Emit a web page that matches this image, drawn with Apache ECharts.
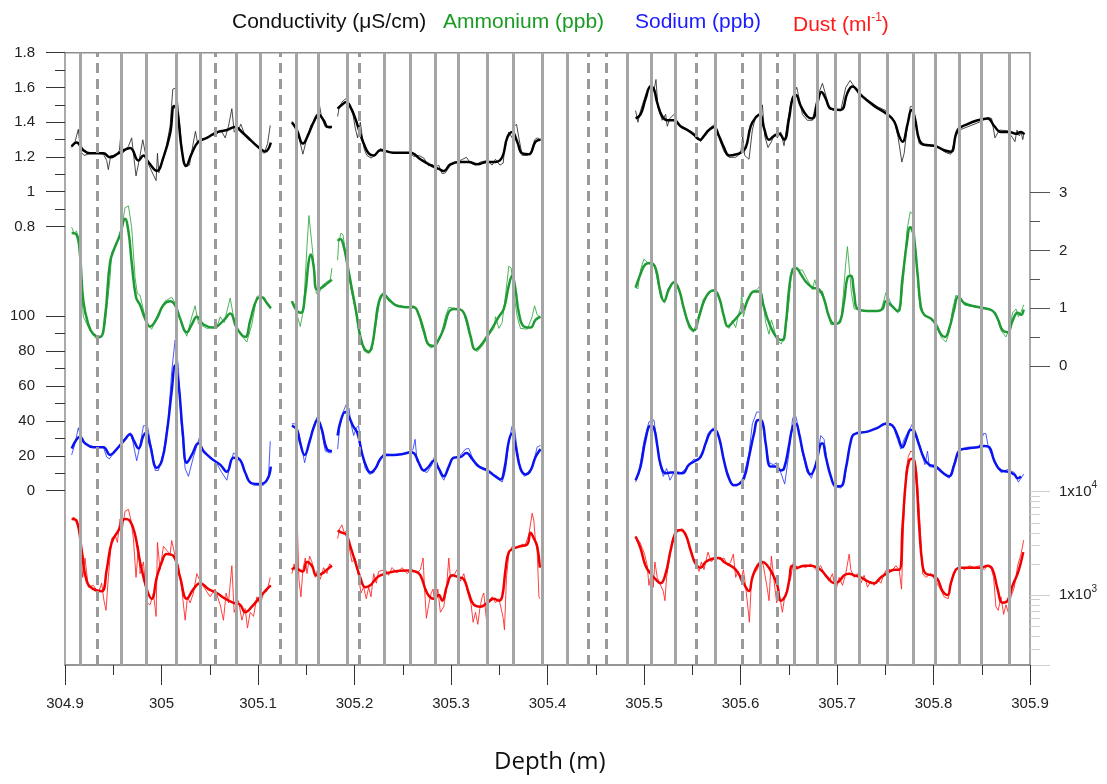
<!DOCTYPE html>
<html><head><meta charset="utf-8">
<script src="https://cdn.jsdelivr.net/npm/echarts@6/dist/echarts.min.js"></script>
<style>html,body{margin:0;padding:0;background:#fff}#c{width:1107px;height:784px}</style>
</head><body><div id="c"></div>
<script>
// ---------------- axis settings ----------------
const depthRange = [304.9, 305.9];
const condRange = [0.8, 1.8];
const naRange = [0, 100];
const ammRange = [0, 3];
const dustRange = [210, 10000];
const solidLines = [304.9156,304.958,304.984,305.015,305.040,305.077,305.102,305.140,305.162,305.193,305.231,305.258,305.284,305.307,305.338,305.364,305.395,305.420,305.483,305.508,305.532,305.574,305.620,305.656,305.680,305.698,305.723,305.752,305.779,305.802,305.827,305.849,305.879];
const dashedLines = [304.933,305.056,305.123,305.205,305.442,305.461,305.554,305.602,305.638];

// ---------------- Conductivity (uS/cm) ----------------
const condRaw1 = [[304.9062,1.254],[304.9104,1.288],[304.9138,1.359],[304.9162,1.232],[304.9197,1.209],[304.9294,1.225],[304.9398,1.216],[304.9432,1.180],[304.9449,1.127],[304.9474,1.209],[304.9519,1.203],[304.9564,1.239],[304.9577,1.321],[304.9605,1.225],[304.9657,1.261],[304.9691,1.310],[304.9716,1.187],[304.9736,1.091],[304.9771,1.187],[304.9806,1.299],[304.9833,1.221],[304.9864,1.158],[304.9916,1.097],[304.9944,1.064],[304.9958,1.221],[304.9972,1.109],[305.0037,1.221],[305.0089,1.377],[305.0117,1.590],[305.0152,1.597],[305.0176,1.467],[305.0221,1.187],[305.0245,1.142],[305.0290,1.153],[305.0324,1.265],[305.0352,1.348],[305.0373,1.283],[305.0435,1.299],[305.0504,1.321],[305.0573,1.333],[305.0615,1.355],[305.0660,1.310],[305.0694,1.377],[305.0729,1.478],[305.0753,1.344],[305.0798,1.355],[305.0822,1.389],[305.0867,1.321],[305.0936,1.288],[305.1023,1.239],[305.1064,1.221],[305.1099,1.277],[305.1127,1.382]];
const condSm1 = [[304.9069,1.261],[304.9121,1.283],[304.9190,1.239],[304.9259,1.221],[304.9398,1.221],[304.9467,1.198],[304.9553,1.221],[304.9674,1.252],[304.9761,1.180],[304.9813,1.209],[304.9864,1.171],[304.9951,1.120],[305.0020,1.198],[305.0089,1.333],[305.0131,1.494],[305.0165,1.456],[305.0210,1.243],[305.0255,1.149],[305.0314,1.221],[305.0383,1.288],[305.0470,1.310],[305.0573,1.342],[305.0677,1.355],[305.0763,1.373],[305.0833,1.344],[305.0919,1.299],[305.1023,1.248],[305.1075,1.232],[305.1133,1.283]];
const condRaw2a = [[305.1351,1.404],[305.1386,1.382],[305.1420,1.321],[305.1465,1.216],[305.1507,1.310],[305.1548,1.382],[305.1604,1.422],[305.1638,1.494],[305.1662,1.422],[305.1697,1.373],[305.1749,1.366],[305.1766,1.373]];
const condSm2a = [[305.1351,1.400],[305.1403,1.355],[305.1465,1.277],[305.1524,1.333],[305.1576,1.400],[305.1628,1.445],[305.1680,1.411],[305.1725,1.373],[305.1766,1.373]];
const condRaw2b = [[305.1825,1.433],[305.1839,1.478],[305.1870,1.516],[305.1905,1.534],[305.1929,1.525],[305.1957,1.478],[305.1984,1.445],[305.2008,1.366],[305.2032,1.310],[305.2060,1.400],[305.2077,1.333],[305.2102,1.243],[305.2129,1.209],[305.2171,1.194],[305.2216,1.209],[305.2268,1.248],[305.2406,1.221],[305.2579,1.221],[305.2614,1.203],[305.2666,1.209],[305.2718,1.194],[305.2769,1.149],[305.2804,1.158],[305.2839,1.142],[305.2873,1.153],[305.2908,1.104],[305.2942,1.109],[305.2994,1.153],[305.3063,1.171],[305.3160,1.198],[305.3202,1.165],[305.3254,1.153],[305.3305,1.171],[305.3375,1.180],[305.3426,1.153],[305.3461,1.187],[305.3506,1.153],[305.3541,1.165],[305.3554,1.243],[305.3599,1.344],[305.3634,1.310],[305.3658,1.377],[305.3679,1.389],[305.3703,1.310],[305.3738,1.209],[305.3790,1.209],[305.3831,1.225],[305.3866,1.299],[305.3893,1.310],[305.3928,1.299]];
const condSm2b = [[305.1825,1.478],[305.1870,1.500],[305.1915,1.516],[305.1957,1.489],[305.2008,1.422],[305.2053,1.344],[305.2095,1.277],[305.2147,1.221],[305.2199,1.209],[305.2268,1.239],[305.2406,1.225],[305.2579,1.225],[305.2683,1.187],[305.2787,1.153],[305.2873,1.131],[305.2925,1.120],[305.2994,1.158],[305.3098,1.171],[305.3184,1.171],[305.3271,1.158],[305.3375,1.171],[305.3461,1.171],[305.3530,1.198],[305.3582,1.310],[305.3634,1.344],[305.3686,1.288],[305.3738,1.221],[305.3807,1.216],[305.3876,1.288],[305.3928,1.299]];
const condRaw3 = [[305.4913,1.467],[305.4937,1.400],[305.4964,1.467],[305.5016,1.556],[305.5061,1.612],[305.5103,1.583],[305.5124,1.646],[305.5144,1.489],[305.5189,1.411],[305.5224,1.445],[305.5241,1.377],[305.5269,1.422],[305.5310,1.445],[305.5362,1.382],[305.5431,1.366],[305.5500,1.344],[305.5552,1.321],[305.5587,1.288],[305.5639,1.344],[305.5684,1.366],[305.5732,1.389],[305.5777,1.310],[305.5829,1.232],[305.5881,1.198],[305.5950,1.198],[305.6002,1.221],[305.6023,1.321],[305.6043,1.209],[305.6088,1.187],[305.6123,1.355],[305.6157,1.433],[305.6209,1.445],[305.6227,1.500],[305.6251,1.321],[305.6285,1.254],[305.6320,1.288],[305.6355,1.333],[305.6382,1.310],[305.6417,1.344],[305.6451,1.265],[305.6486,1.400],[305.6527,1.523],[305.6583,1.601],[305.6617,1.512],[305.6642,1.445],[305.6693,1.411],[305.6745,1.411],[305.6797,1.545],[305.6849,1.624],[305.6884,1.556],[305.6918,1.478],[305.6970,1.467],[305.7039,1.467],[305.7091,1.601],[305.7136,1.640],[305.7178,1.606],[305.7281,1.545],[305.7420,1.489],[305.7506,1.467],[305.7523,1.445],[305.7575,1.422],[305.7599,1.400],[305.7634,1.310],[305.7672,1.171],[305.7696,1.221],[305.7731,1.389],[305.7759,1.489],[305.7793,1.494],[305.7817,1.400],[305.7852,1.277],[305.7911,1.265],[305.8025,1.261],[305.8129,1.225],[305.8180,1.216],[305.8232,1.321],[305.8267,1.355],[305.8370,1.377],[305.8474,1.400],[305.8561,1.427],[305.8602,1.422],[305.8637,1.310],[305.8682,1.355],[305.8768,1.351],[305.8820,1.310],[305.8844,1.288],[305.8865,1.355],[305.8889,1.321],[305.8907,1.344],[305.8925,1.300],[305.8940,1.340]];
const condSm3 = [[305.4913,1.422],[305.4964,1.445],[305.5016,1.534],[305.5068,1.606],[305.5103,1.590],[305.5137,1.512],[305.5189,1.433],[305.5241,1.411],[305.5310,1.411],[305.5379,1.377],[305.5449,1.355],[305.5518,1.328],[305.5580,1.299],[305.5622,1.321],[305.5673,1.355],[305.5725,1.373],[305.5777,1.321],[305.5829,1.254],[305.5881,1.209],[305.5950,1.214],[305.6002,1.225],[305.6054,1.254],[305.6106,1.377],[305.6157,1.427],[305.6202,1.445],[305.6244,1.366],[305.6296,1.299],[305.6348,1.321],[305.6400,1.333],[305.6451,1.299],[305.6503,1.422],[305.6538,1.534],[305.6573,1.556],[305.6624,1.494],[305.6693,1.433],[305.6745,1.422],[305.6797,1.512],[305.6839,1.574],[305.6884,1.534],[305.6936,1.478],[305.7039,1.471],[305.7108,1.568],[305.7160,1.606],[305.7247,1.556],[305.7385,1.494],[305.7523,1.445],[305.7593,1.404],[305.7644,1.321],[305.7679,1.288],[305.7731,1.389],[305.7772,1.471],[305.7807,1.422],[305.7852,1.299],[305.7904,1.270],[305.8008,1.265],[305.8111,1.239],[305.8180,1.230],[305.8250,1.355],[305.8353,1.389],[305.8457,1.411],[305.8561,1.422],[305.8630,1.377],[305.8699,1.344],[305.8786,1.344],[305.8855,1.333],[305.8907,1.344],[305.8940,1.330]];

// ---------------- Ammonium (ppb) ----------------
const ammRaw1 = [[304.9069,2.402],[304.9093,2.301],[304.9121,2.335],[304.9138,2.200],[304.9149,2.281],[304.9162,1.527],[304.9190,0.853],[304.9259,0.617],[304.9328,0.462],[304.9380,0.503],[304.9415,0.718],[304.9467,1.527],[304.9484,1.965],[304.9536,2.133],[304.9588,2.402],[304.9622,2.739],[304.9657,2.773],[304.9691,2.402],[304.9726,1.527],[304.9750,1.257],[304.9778,1.224],[304.9806,1.022],[304.9847,0.718],[304.9899,0.638],[304.9968,0.921],[305.0037,1.123],[305.0106,1.190],[305.0141,1.089],[305.0210,0.718],[305.0262,0.516],[305.0314,0.853],[305.0348,1.042],[305.0383,0.732],[305.0470,0.651],[305.0573,0.665],[305.0608,0.853],[305.0649,0.752],[305.0712,1.176],[305.0746,0.853],[305.0815,0.550],[305.0884,0.415],[305.0936,0.718],[305.0988,1.203],[305.1023,1.224],[305.1064,1.136],[305.1133,0.988]];
const ammSm1 = [[304.9069,2.301],[304.9121,2.268],[304.9155,1.931],[304.9190,1.123],[304.9242,0.718],[304.9294,0.550],[304.9363,0.503],[304.9415,0.853],[304.9467,1.796],[304.9519,2.066],[304.9570,2.268],[304.9622,2.551],[304.9657,2.335],[304.9691,1.796],[304.9736,1.190],[304.9778,1.055],[304.9830,0.820],[304.9882,0.685],[304.9951,0.820],[305.0020,1.055],[305.0089,1.123],[305.0141,1.055],[305.0193,0.820],[305.0262,0.584],[305.0314,0.718],[305.0366,0.853],[305.0435,0.718],[305.0539,0.665],[305.0642,0.786],[305.0712,0.907],[305.0781,0.651],[305.0867,0.503],[305.0919,0.786],[305.0988,1.156],[305.1040,1.190],[305.1092,1.089],[305.1133,1.001]];
const ammRaw2a = [[305.1351,1.123],[305.1386,1.055],[305.1410,0.853],[305.1438,0.685],[305.1472,0.988],[305.1507,2.066],[305.1528,2.605],[305.1548,2.571],[305.1569,1.931],[305.1604,1.257],[305.1628,1.224],[305.1662,1.392],[305.1714,1.460],[305.1749,1.493],[305.1766,1.695]];
const ammSm2a = [[305.1351,1.123],[305.1403,0.954],[305.1445,0.921],[305.1490,1.257],[305.1524,1.796],[305.1548,1.931],[305.1576,1.729],[305.1611,1.325],[305.1662,1.358],[305.1714,1.426],[305.1766,1.493]];
const ammRaw2b = [[305.1825,1.830],[305.1835,2.133],[305.1860,2.301],[305.1881,2.268],[305.1915,1.864],[305.1964,1.325],[305.2008,0.988],[305.2053,0.483],[305.2102,0.260],[305.2147,0.213],[305.2181,0.281],[305.2216,0.651],[305.2261,1.123],[305.2303,1.291],[305.2354,1.123],[305.2441,1.055],[305.2527,1.022],[305.2614,1.042],[305.2648,0.988],[305.2700,0.651],[305.2752,0.382],[305.2787,0.314],[305.2839,0.348],[305.2890,0.483],[305.2942,0.853],[305.2977,1.015],[305.3029,1.001],[305.3098,0.988],[305.3133,0.921],[305.3174,0.651],[305.3229,0.314],[305.3271,0.247],[305.3323,0.348],[305.3392,0.530],[305.3444,0.651],[305.3461,0.853],[305.3496,0.651],[305.3530,0.752],[305.3565,1.224],[305.3599,1.729],[305.3624,1.695],[305.3651,1.257],[305.3686,0.853],[305.3720,0.651],[305.3790,0.638],[305.3841,0.853],[305.3866,1.042],[305.3893,0.887],[305.3928,0.840]];
const ammSm2b = [[305.1825,2.167],[305.1853,2.200],[305.1887,2.079],[305.1929,1.729],[305.1974,1.325],[305.2019,0.921],[305.2060,0.516],[305.2102,0.301],[305.2147,0.247],[305.2181,0.348],[305.2216,0.718],[305.2250,1.089],[305.2303,1.244],[305.2354,1.156],[305.2424,1.055],[305.2510,1.022],[305.2614,1.015],[305.2666,0.887],[305.2718,0.617],[305.2769,0.368],[305.2821,0.348],[305.2873,0.462],[305.2925,0.651],[305.2977,0.934],[305.3029,0.988],[305.3098,0.975],[305.3150,0.853],[305.3202,0.516],[305.3254,0.281],[305.3305,0.348],[305.3375,0.516],[305.3426,0.651],[305.3496,0.853],[305.3547,0.988],[305.3599,1.392],[305.3634,1.561],[305.3668,1.325],[305.3703,0.921],[305.3755,0.685],[305.3824,0.665],[305.3876,0.799],[305.3928,0.853]];
const ammRaw3 = [[305.4913,1.358],[305.4937,1.338],[305.4964,1.662],[305.4999,1.850],[305.5034,1.796],[305.5075,1.742],[305.5103,1.763],[305.5130,1.561],[305.5172,1.190],[305.5213,1.089],[305.5248,1.338],[305.5310,1.473],[305.5345,1.426],[305.5373,1.257],[305.5421,0.921],[305.5466,0.651],[305.5511,0.584],[305.5552,0.786],[305.5615,1.156],[305.5691,1.291],[305.5743,1.291],[305.5794,1.123],[305.5846,0.718],[305.5881,0.651],[305.5915,0.786],[305.5950,0.665],[305.5974,0.853],[305.6002,1.022],[305.6012,1.271],[305.6030,0.853],[305.6071,1.123],[305.6123,1.291],[305.6175,1.325],[305.6202,1.392],[305.6230,1.156],[305.6261,0.752],[305.6296,0.550],[305.6320,0.799],[305.6341,0.685],[305.6375,0.449],[305.6424,0.382],[305.6465,0.584],[305.6503,1.123],[305.6527,1.628],[305.6562,1.742],[305.6590,1.662],[305.6642,1.662],[305.6693,1.493],[305.6745,1.325],[305.6770,1.493],[305.6804,1.257],[305.6849,1.291],[305.6894,0.988],[305.6936,0.718],[305.6998,0.718],[305.7039,0.752],[305.7067,1.257],[305.7088,1.729],[305.7108,2.066],[305.7129,1.662],[305.7150,1.257],[305.7178,0.988],[305.7316,0.954],[305.7454,0.954],[305.7489,1.156],[305.7506,1.271],[305.7523,1.224],[305.7575,1.022],[305.7627,0.921],[305.7655,0.954],[305.7689,1.527],[305.7724,2.335],[305.7759,2.672],[305.7793,2.605],[305.7828,1.662],[305.7862,0.988],[305.7911,0.867],[305.7990,0.820],[305.8042,0.651],[305.8084,0.483],[305.8129,0.415],[305.8163,0.584],[305.8198,0.988],[305.8232,1.224],[305.8267,1.190],[305.8319,1.055],[305.8422,1.022],[305.8526,1.001],[305.8578,0.988],[305.8613,0.954],[305.8647,0.921],[305.8699,0.617],[305.8751,0.503],[305.8786,0.651],[305.8820,0.921],[305.8855,0.988],[305.8879,0.853],[305.8907,0.934],[305.8935,1.060]];
const ammSm3 = [[305.4913,1.358],[305.4964,1.594],[305.5016,1.763],[305.5068,1.783],[305.5120,1.695],[305.5165,1.325],[305.5207,1.123],[305.5258,1.325],[305.5310,1.446],[305.5362,1.325],[305.5414,0.988],[305.5466,0.718],[305.5518,0.617],[305.5570,0.853],[305.5622,1.123],[305.5673,1.271],[305.5725,1.311],[305.5777,1.190],[305.5829,0.853],[305.5870,0.685],[305.5926,0.772],[305.5985,0.887],[305.6036,0.988],[305.6088,1.190],[305.6140,1.291],[305.6192,1.291],[305.6237,1.055],[305.6279,0.820],[305.6330,0.617],[305.6382,0.483],[305.6434,0.449],[305.6469,0.718],[305.6503,1.325],[305.6538,1.662],[305.6573,1.695],[305.6624,1.594],[305.6676,1.460],[305.6745,1.358],[305.6815,1.325],[305.6866,1.156],[305.6918,0.853],[305.6970,0.732],[305.7022,0.752],[305.7074,1.123],[305.7108,1.527],[305.7143,1.561],[305.7178,1.257],[305.7212,0.988],[305.7316,0.954],[305.7420,0.954],[305.7472,0.988],[305.7506,1.123],[305.7558,1.055],[305.7627,0.954],[305.7679,1.527],[305.7724,2.133],[305.7759,2.402],[305.7793,2.268],[305.7835,1.594],[305.7869,1.022],[305.7904,0.887],[305.7973,0.820],[305.8025,0.718],[305.8077,0.550],[305.8118,0.503],[305.8163,0.651],[305.8215,0.988],[305.8257,1.203],[305.8319,1.089],[305.8422,1.035],[305.8526,1.001],[305.8613,0.954],[305.8664,0.820],[305.8716,0.617],[305.8768,0.584],[305.8820,0.786],[305.8872,0.921],[305.8907,0.887],[305.8935,0.980]];

// ---------------- Sodium (ppb) ----------------
const naRaw1 = [[304.9069,20.5],[304.9104,27.1],[304.9138,36.0],[304.9173,28.7],[304.9259,24.9],[304.9398,24.9],[304.9432,19.3],[304.9460,18.2],[304.9519,22.7],[304.9622,30.0],[304.9674,33.2],[304.9702,28.3],[304.9743,17.1],[304.9778,26.0],[304.9813,37.2],[304.9854,37.2],[304.9899,23.8],[304.9934,11.6],[304.9968,11.6],[305.0020,21.6],[305.0072,41.6],[305.0106,68.3],[305.0141,86.2],[305.0176,70.6],[305.0200,41.6],[305.0245,12.7],[305.0279,8.2],[305.0331,19.3],[305.0393,30.5],[305.0435,21.6],[305.0556,17.1],[305.0625,10.4],[305.0677,6.0],[305.0712,14.9],[305.0746,21.6],[305.0798,19.3],[305.0843,14.9],[305.0884,7.1],[305.0954,3.1],[305.1057,3.1],[305.1109,8.2],[305.1127,28.3]];
const naSm1 = [[304.9069,24.2],[304.9121,29.4],[304.9155,30.9],[304.9207,27.1],[304.9294,24.9],[304.9398,24.9],[304.9467,20.5],[304.9536,23.8],[304.9622,29.4],[304.9674,32.3],[304.9716,28.3],[304.9761,24.2],[304.9813,31.6],[304.9840,33.2],[304.9882,26.0],[304.9951,13.1],[305.0003,17.1],[305.0054,32.7],[305.0106,57.2],[305.0141,71.7],[305.0176,61.7],[305.0221,32.7],[305.0262,16.0],[305.0314,20.5],[305.0383,27.1],[305.0435,22.7],[305.0521,18.2],[305.0608,14.9],[305.0677,10.9],[305.0746,18.9],[305.0815,17.6],[305.0867,10.4],[305.0936,4.2],[305.1023,3.8],[305.1092,6.0],[305.1133,13.8]];
const naRaw2a = [[305.1351,38.3],[305.1396,38.3],[305.1438,29.4],[305.1483,16.0],[305.1524,26.0],[305.1576,37.2],[305.1611,42.1],[305.1645,38.3],[305.1697,22.7],[305.1742,21.6],[305.1766,22.0]];
const naSm2a = [[305.1351,37.2],[305.1403,34.9],[305.1438,27.1],[305.1483,20.5],[305.1535,28.3],[305.1576,36.0],[305.1617,40.5],[305.1662,34.9],[305.1714,23.8],[305.1766,22.7]];
const naRaw2b = [[305.1825,23.8],[305.1846,36.0],[305.1881,45.0],[305.1915,49.4],[305.1943,47.2],[305.1964,38.3],[305.1991,31.6],[305.2019,36.0],[305.2043,37.2],[305.2067,23.8],[305.2112,12.7],[305.2157,9.3],[305.2199,10.4],[305.2250,17.1],[305.2303,21.1],[305.2406,20.5],[305.2579,22.0],[305.2607,23.8],[305.2628,29.4],[305.2648,17.1],[305.2700,11.6],[305.2752,10.4],[305.2804,14.9],[305.2828,19.3],[305.2856,16.0],[305.2890,9.3],[305.2925,6.0],[305.2960,10.4],[305.3011,18.2],[305.3081,19.3],[305.3150,23.8],[305.3184,24.2],[305.3236,17.1],[305.3305,13.8],[305.3392,11.6],[305.3461,7.8],[305.3530,4.9],[305.3565,11.6],[305.3599,28.3],[305.3634,37.2],[305.3658,36.0],[305.3686,23.8],[305.3720,11.6],[305.3762,8.2],[305.3817,10.0],[305.3859,17.1],[305.3893,24.9],[305.3928,26.0]];
const naSm2b = [[305.1825,31.6],[305.1860,40.5],[305.1905,45.0],[305.1939,42.7],[305.1984,37.2],[305.2032,32.7],[305.2077,21.6],[305.2122,13.8],[305.2164,10.4],[305.2216,12.7],[305.2268,18.2],[305.2320,20.5],[305.2406,20.5],[305.2510,21.1],[305.2579,22.0],[305.2614,21.6],[305.2666,16.0],[305.2718,11.6],[305.2769,13.8],[305.2821,17.1],[305.2873,12.7],[305.2925,8.2],[305.2977,13.8],[305.3029,18.9],[305.3098,19.3],[305.3160,21.6],[305.3219,18.2],[305.3288,13.8],[305.3375,11.6],[305.3461,8.2],[305.3513,6.4],[305.3554,12.7],[305.3599,28.3],[305.3634,32.7],[305.3668,26.0],[305.3720,12.7],[305.3772,9.3],[305.3824,11.6],[305.3876,19.3],[305.3928,23.8]];
const naRaw3 = [[305.4913,4.9],[305.4947,10.4],[305.4999,28.3],[305.5051,39.4],[305.5103,40.5],[305.5130,29.4],[305.5165,14.9],[305.5200,8.2],[305.5234,12.7],[305.5269,6.0],[305.5310,10.4],[305.5362,9.3],[305.5414,11.6],[305.5466,14.9],[305.5518,18.2],[305.5559,17.1],[305.5615,23.8],[305.5663,32.7],[305.5718,36.0],[305.5767,32.7],[305.5812,21.6],[305.5864,8.2],[305.5905,3.8],[305.5960,2.6],[305.6009,4.9],[305.6043,10.4],[305.6088,21.6],[305.6123,38.3],[305.6168,45.0],[305.6209,45.0],[305.6251,29.4],[305.6296,16.0],[305.6341,14.9],[305.6375,16.0],[305.6410,11.6],[305.6458,3.8],[305.6503,21.6],[305.6538,40.5],[305.6562,45.0],[305.6597,37.2],[305.6642,21.6],[305.6693,10.4],[305.6735,7.1],[305.6790,17.1],[305.6832,31.6],[305.6866,29.4],[305.6908,12.7],[305.6970,2.6],[305.7039,1.5],[305.7081,7.1],[305.7126,23.8],[305.7160,32.3],[305.7316,33.8],[305.7420,36.0],[305.7506,38.9],[305.7558,38.3],[305.7593,34.9],[305.7627,29.4],[305.7662,23.8],[305.7696,29.4],[305.7738,33.8],[305.7783,38.3],[305.7828,31.6],[305.7869,23.8],[305.7911,14.9],[305.7938,22.7],[305.7956,13.8],[305.8025,13.1],[305.8094,10.0],[305.8163,7.1],[305.8208,14.9],[305.8250,22.7],[305.8353,24.9],[305.8474,24.9],[305.8519,32.7],[305.8543,32.7],[305.8568,24.9],[305.8613,19.3],[305.8647,14.9],[305.8699,10.4],[305.8768,12.2],[305.8837,10.4],[305.8879,4.9],[305.8907,7.1],[305.8935,9.5]];
const naSm3 = [[305.4913,6.0],[305.4964,13.8],[305.5016,29.4],[305.5068,37.2],[305.5103,36.0],[305.5137,26.0],[305.5172,14.9],[305.5224,10.0],[305.5276,10.4],[305.5328,10.4],[305.5397,10.0],[305.5466,14.9],[305.5535,17.1],[305.5587,19.3],[305.5639,27.1],[305.5691,33.8],[305.5732,34.9],[305.5777,30.5],[305.5829,17.1],[305.5881,7.1],[305.5933,3.1],[305.5985,3.8],[305.6036,7.1],[305.6088,19.3],[305.6140,32.7],[305.6182,40.5],[305.6227,39.4],[305.6261,27.1],[305.6313,13.8],[305.6365,13.8],[305.6417,11.6],[305.6451,12.7],[305.6503,26.0],[305.6538,36.0],[305.6573,38.3],[305.6607,32.7],[305.6659,19.3],[305.6728,9.3],[305.6780,14.9],[305.6825,26.0],[305.6849,27.1],[305.6884,19.3],[305.6936,8.2],[305.6987,2.6],[305.7039,2.6],[305.7091,12.7],[305.7143,28.3],[305.7178,32.3],[305.7316,33.8],[305.7420,36.0],[305.7506,38.3],[305.7575,37.2],[305.7627,31.6],[305.7679,24.9],[305.7724,30.5],[305.7765,34.9],[305.7800,33.8],[305.7852,26.0],[305.7904,18.2],[305.7956,14.9],[305.8025,13.8],[305.8094,10.4],[305.8163,8.2],[305.8215,14.9],[305.8267,22.7],[305.8353,24.2],[305.8457,24.9],[305.8526,25.6],[305.8578,24.9],[305.8630,17.1],[305.8699,11.6],[305.8768,10.9],[305.8837,9.3],[305.8872,7.1],[305.8907,8.2]];

// ---------------- Dust (ml-1) ----------------
const dustRaw1 = [[304.9069,5430],[304.9093,5680],[304.9138,4570],[304.9162,3230],[304.9183,1480],[304.9207,2280],[304.9242,1190],[304.9294,1240],[304.9346,1045],[304.9380,1300],[304.9404,880],[304.9425,710],[304.9449,1480],[304.9484,3520],[304.9519,3840],[304.9543,3230],[304.9570,5430],[304.9598,4570],[304.9622,6460],[304.9657,6750],[304.9681,5430],[304.9709,3520],[304.9736,1480],[304.9761,2960],[304.9778,1610],[304.9813,2090],[304.9847,840],[304.9882,805],[304.9916,1045],[304.9944,620],[304.9958,3230],[304.9985,1760],[305.0020,2960],[305.0054,2710],[305.0089,2490],[305.0106,3370],[305.0141,2380],[305.0176,1920],[305.0210,1140],[305.0245,570],[305.0269,960],[305.0297,840],[305.0331,1045],[305.0366,1610],[305.0400,1360],[305.0452,1140],[305.0504,960],[305.0556,1140],[305.0608,805],[305.0642,570],[305.0670,1045],[305.0694,840],[305.0729,1920],[305.0753,680],[305.0798,880],[305.0833,570],[305.0867,740],[305.0891,480],[305.0919,680],[305.0954,620],[305.0988,960],[305.1023,805],[305.1057,1045],[305.1092,1090],[305.1127,1480]];
const dustSm1 = [[304.9069,5430],[304.9121,5200],[304.9173,2710],[304.9225,1360],[304.9294,1140],[304.9380,1090],[304.9432,1760],[304.9484,3230],[304.9553,4190],[304.9622,5430],[304.9674,5200],[304.9726,3840],[304.9778,2090],[304.9847,1140],[304.9899,920],[304.9951,1480],[305.0003,2090],[305.0054,2490],[305.0124,2380],[305.0193,1480],[305.0262,920],[305.0331,1140],[305.0400,1300],[305.0487,1140],[305.0573,1045],[305.0660,920],[305.0746,840],[305.0815,805],[305.0867,680],[305.0936,770],[305.1023,960],[305.1092,1140],[305.1133,1240]];
const dustRaw2a = [[305.1351,1610],[305.1375,2000],[305.1396,1550],[305.1410,4010],[305.1424,1420],[305.1445,960],[305.1465,1760],[305.1490,2280],[305.1507,1610],[305.1535,2380],[305.1559,2090],[305.1593,1480],[305.1617,1760],[305.1645,1420],[305.1680,1840],[305.1714,1610],[305.1742,2000],[305.1766,1920]];
const dustSm2a = [[305.1351,1760],[305.1386,1840],[305.1420,1760],[305.1465,1690],[305.1507,2090],[305.1559,1920],[305.1604,1550],[305.1662,1610],[305.1714,1760],[305.1766,1920]];
const dustRaw2b = [[305.1825,3520],[305.1846,4380],[305.1870,4770],[305.1894,4010],[305.1915,4190],[305.1939,3090],[305.1974,2090],[305.2008,2280],[305.2043,1480],[305.2067,1045],[305.2095,1190],[305.2122,920],[305.2147,1190],[305.2171,960],[305.2199,1610],[305.2226,1300],[305.2250,1690],[305.2320,1760],[305.2354,1550],[305.2389,1840],[305.2441,1640],[305.2493,1840],[305.2545,1610],[305.2597,1760],[305.2648,1640],[305.2683,1760],[305.2711,2280],[305.2724,1240],[305.2745,595],[305.2769,805],[305.2794,1045],[305.2814,1140],[305.2839,740],[305.2863,1140],[305.2890,680],[305.2925,770],[305.2953,1140],[305.2977,2280],[305.2994,1480],[305.3029,1550],[305.3063,1760],[305.3098,1360],[305.3133,1610],[305.3174,1045],[305.3209,805],[305.3229,545],[305.3254,680],[305.3278,520],[305.3299,740],[305.3323,960],[305.3340,1045],[305.3368,570],[305.3392,880],[305.3426,960],[305.3461,840],[305.3496,920],[305.3520,740],[305.3541,595],[305.3554,460],[305.3575,1480],[305.3599,2490],[305.3634,2960],[305.3668,2830],[305.3703,2960],[305.3738,3090],[305.3772,3090],[305.3807,3840],[305.3841,6190],[305.3859,5200],[305.3876,3230],[305.3893,2710],[305.3911,960],[305.3921,920]];
const dustSm2b = [[305.1825,4190],[305.1870,4010],[305.1915,3840],[305.1957,2960],[305.2008,2090],[305.2060,1480],[305.2112,1190],[305.2164,1240],[305.2216,1420],[305.2268,1550],[305.2406,1690],[305.2545,1730],[305.2631,1690],[305.2683,1550],[305.2752,1045],[305.2821,920],[305.2873,1000],[305.2908,880],[305.2960,1240],[305.3011,1550],[305.3081,1480],[305.3133,1420],[305.3184,1045],[305.3236,805],[305.3305,770],[305.3375,840],[305.3444,920],[305.3496,880],[305.3530,960],[305.3565,1760],[305.3599,2600],[305.3651,2830],[305.3720,2960],[305.3790,3090],[305.3824,4010],[305.3859,3520],[305.3893,2960],[305.3921,1840]];
const dustRaw3 = [[305.4913,3680],[305.4930,3840],[305.4958,3230],[305.4982,2830],[305.5006,2490],[305.5034,1920],[305.5051,1240],[305.5075,1610],[305.5096,1190],[305.5113,2090],[305.5137,1480],[305.5172,1240],[305.5200,1090],[305.5217,880],[305.5234,1480],[305.5258,2090],[305.5293,3370],[305.5328,4380],[305.5362,4190],[305.5397,4380],[305.5431,4010],[305.5466,2960],[305.5511,2280],[305.5545,1920],[305.5570,1690],[305.5594,2090],[305.5622,1760],[305.5663,2600],[305.5698,2090],[305.5743,2380],[305.5788,2190],[305.5829,2280],[305.5870,1920],[305.5898,2090],[305.5926,2490],[305.5950,1480],[305.5974,1690],[305.6002,1360],[305.6030,1760],[305.6054,1190],[305.6078,740],[305.6092,545],[305.6113,1360],[305.6140,1610],[305.6175,1760],[305.6209,2280],[305.6237,1920],[305.6272,1240],[305.6296,880],[305.6320,2380],[305.6348,1360],[305.6375,840],[305.6400,1045],[305.6434,680],[305.6458,960],[305.6486,1140],[305.6521,1480],[305.6555,2280],[305.6583,1760],[305.6624,1920],[305.6676,1840],[305.6728,2000],[305.6780,1760],[305.6832,1920],[305.6873,1550],[305.6918,1360],[305.6953,1610],[305.6987,1090],[305.7022,1480],[305.7057,1240],[305.7091,1610],[305.7126,2490],[305.7143,1760],[305.7178,1480],[305.7212,1610],[305.7247,1300],[305.7281,1550],[305.7316,1190],[305.7351,1360],[305.7385,1240],[305.7420,1420],[305.7454,1300],[305.7489,1610],[305.7523,1840],[305.7565,1690],[305.7610,1920],[305.7644,1760],[305.7669,1140],[305.7689,4570],[305.7714,15380],[305.7738,21760],[305.7765,24770],[305.7793,23700],[305.7828,15380],[305.7862,4570],[305.7887,1610],[305.7921,1480],[305.7973,1610],[305.8025,1360],[305.8070,1140],[305.8111,960],[305.8153,920],[305.8187,1360],[305.8232,1760],[305.8267,1920],[305.8319,1760],[305.8370,1920],[305.8422,1840],[305.8474,1920],[305.8526,1760],[305.8561,1920],[305.8595,1840],[305.8623,1480],[305.8647,770],[305.8671,710],[305.8699,960],[305.8727,650],[305.8751,805],[305.8775,680],[305.8803,960],[305.8837,1190],[305.8872,1920],[305.8907,2490],[305.8935,3400]];
const dustSm3 = [[305.4913,3680],[305.4964,2830],[305.5016,1920],[305.5068,1610],[305.5120,1420],[305.5172,1300],[305.5224,1610],[305.5276,2710],[305.5328,4010],[305.5379,4260],[305.5431,3840],[305.5483,2710],[305.5535,2000],[305.5587,1840],[305.5639,2090],[305.5708,2240],[305.5777,2280],[305.5829,2090],[305.5898,1920],[305.5950,1760],[305.6002,1480],[305.6054,1190],[305.6088,1090],[305.6123,1480],[305.6175,1920],[305.6227,2090],[305.6279,1920],[305.6330,1610],[305.6382,1240],[305.6417,880],[305.6469,1000],[305.6503,1360],[305.6538,1920],[305.6590,1840],[305.6659,1920],[305.6728,1920],[305.6797,1840],[305.6849,1690],[305.6901,1480],[305.6970,1300],[305.7022,1360],[305.7074,1550],[305.7126,1610],[305.7178,1550],[305.7247,1480],[305.7316,1360],[305.7385,1300],[305.7454,1480],[305.7523,1640],[305.7593,1760],[305.7644,1760],[305.7679,4570],[305.7714,12940],[305.7748,19950],[305.7783,20840],[305.7817,15380],[305.7852,4570],[305.7887,1920],[305.7921,1610],[305.7990,1550],[305.8042,1420],[305.8094,1090],[305.8146,1000],[305.8180,1300],[305.8232,1760],[305.8284,1840],[305.8388,1840],[305.8492,1840],[305.8561,1920],[305.8613,1760],[305.8664,1140],[305.8716,840],[305.8768,880],[305.8820,1240],[305.8872,1610],[305.8907,2090],[305.8930,2600]];

// ---------------- build chart ----------------
const chart = echarts.init(document.getElementById('c'), null, {renderer: 'canvas'});
const FONT = '"Liberation Sans", Arial, sans-serif';
const L = 65, R = 77;
const hiddenX = (g) => ({gridIndex: g, type: 'value', min: depthRange[0], max: depthRange[1], show: false});
const lbl = (m) => ({margin: m, fontSize: 15, color: '#222', fontFamily: FONT});

const groups = [
  {raw: [condRaw1, condRaw2a, condRaw2b, condRaw3], sm: [condSm1, condSm2a, condSm2b, condSm3], g: 1, rawColor: '#2a2a2a', smColor: '#000000'},
  {raw: [naRaw1, naRaw2a, naRaw2b, naRaw3], sm: [naSm1, naSm2a, naSm2b, naSm3], g: 2, rawColor: '#2b3cff', smColor: '#0a14f0'},
  {raw: [ammRaw1, ammRaw2a, ammRaw2b, ammRaw3], sm: [ammSm1, ammSm2a, ammSm2b, ammSm3], g: 3, rawColor: '#2fa83f', smColor: '#1f9a35'},
  {raw: [dustRaw1, dustRaw2a, dustRaw2b, dustRaw3], sm: [dustSm1, dustSm2a, dustSm2b, dustSm3], g: 4, rawColor: '#ff2020', smColor: '#f00000'}
];

const series = [{
  type: 'line', xAxisIndex: 0, yAxisIndex: 0, data: [], z: 1, silent: true,
  markLine: {
    silent: true, precision: 6, symbol: ['none', 'none'], label: {show: false}, animation: false,
    data: solidLines.map(v => ({xAxis: v, lineStyle: {type: 'solid', color: '#a5a5a5', width: 3}}))
      .concat(dashedLines.map(v => ({xAxis: v, lineStyle: {type: [10, 6], color: '#9a9a9a', width: 3}})))
  }
}];
groups.forEach(gr => {
  gr.raw.forEach(d => series.push({type: 'line', xAxisIndex: gr.g, yAxisIndex: gr.g, data: d, showSymbol: false, symbol: 'none', clip: false, z: 3,
    lineStyle: {color: gr.rawColor, width: 1, opacity: 0.85}}));
  gr.sm.forEach(d => series.push({type: 'line', xAxisIndex: gr.g, yAxisIndex: gr.g, data: d, showSymbol: false, symbol: 'none', clip: false, z: 4,
    smooth: 0.45, lineStyle: {color: gr.smColor, width: 2.5}}));
});

const supRich = {s: {fontSize: 10, lineHeight: 10, verticalAlign: 'top', fontFamily: FONT, color: '#222'}};

chart.setOption({
  animation: false,
  backgroundColor: '#ffffff',
  grid: [
    {left: L, right: R, top: 52.7, height: 612.3, show: true, borderColor: '#8f8f8f', borderWidth: 1.5},
    {left: L, right: R, top: 52.7, height: 173.8},
    {left: L, right: R, top: 316, height: 174.7},
    {left: L, right: R, top: 192.7, height: 173.3},
    {left: L, right: R, top: 491.7, height: 173.3}
  ],
  xAxis: [
    {gridIndex: 0, type: 'value', min: depthRange[0], max: depthRange[1], interval: 0.1,
     axisLine: {show: true, lineStyle: {color: '#8f8f8f', width: 1.5}},
     axisTick: {show: true, length: 20, lineStyle: {color: '#333'}},
     minorTick: {show: true, splitNumber: 2, length: 10, lineStyle: {color: '#333'}},
     splitLine: {show: false},
     axisLabel: Object.assign(lbl(31), {formatter: v => String(+(+v).toFixed(1))})},
    hiddenX(1), hiddenX(2), hiddenX(3), hiddenX(4)
  ],
  yAxis: [
    {gridIndex: 0, type: 'value', min: 0, max: 1, show: false},
    {gridIndex: 1, type: 'value', min: condRange[0], max: condRange[1], interval: 0.2, position: 'left',
     axisLine: {show: false}, splitLine: {show: false},
     axisTick: {show: true, length: 19, lineStyle: {color: '#333'}},
     minorTick: {show: true, splitNumber: 2, length: 10, lineStyle: {color: '#333'}},
     axisLabel: Object.assign(lbl(30), {formatter: v => String(+(+v).toFixed(1))})},
    {gridIndex: 2, type: 'value', min: naRange[0], max: naRange[1], interval: 20, position: 'left',
     axisLine: {show: false}, splitLine: {show: false},
     axisTick: {show: true, length: 19, lineStyle: {color: '#333'}},
     minorTick: {show: true, splitNumber: 2, length: 10, lineStyle: {color: '#333'}},
     axisLabel: lbl(30)},
    {gridIndex: 3, type: 'value', min: ammRange[0], max: ammRange[1], interval: 1, position: 'right',
     axisLine: {show: false}, splitLine: {show: false},
     axisTick: {show: true, length: 20, lineStyle: {color: '#555'}},
     minorTick: {show: true, splitNumber: 2, length: 10, lineStyle: {color: '#555'}},
     axisLabel: lbl(29)},
    {gridIndex: 4, type: 'log', logBase: 10, min: dustRange[0], max: dustRange[1], position: 'right',
     axisLine: {show: false}, splitLine: {show: false},
     axisTick: {show: true, length: 20, lineStyle: {color: '#cfcfcf'}},
     minorTick: {show: true, splitNumber: 9, length: 10, lineStyle: {color: '#cfcfcf'}},
     axisLabel: Object.assign(lbl(29), {showMinLabel: false, lineHeight: 22, rich: supRich,
       formatter: v => { const e = Math.log10(v); return (Math.abs(e - Math.round(e)) < 1e-6 && e >= 2.9) ? '1x10{s|' + Math.round(e) + '}' : ''; }})}
  ],
  graphic: [
    {type: 'text', left: 232, top: 12, style: {text: 'Conductivity (μS/cm)', font: '21px ' + FONT, fill: '#111'}},
    {type: 'text', left: 443, top: 12, style: {text: 'Ammonium (ppb)', font: '21px ' + FONT, fill: '#1a9a22'}},
    {type: 'text', left: 635, top: 12, style: {text: 'Sodium (ppb)', font: '21px ' + FONT, fill: '#1a1aff'}},
    {type: 'text', left: 793, top: 12, style: {text: 'Dust (ml{s|-1})', font: '21px ' + FONT, fill: '#ff1a1a', lineHeight: 26,
      rich: {s: {fontSize: 12, lineHeight: 12, verticalAlign: 'top', fill: '#ff1a1a', fontFamily: FONT}}}},
    {type: 'text', left: 494, top: 750, style: {text: 'Depth (m)', font: '24px "Open Sans", sans-serif', fill: '#111'}}
  ],
  series: series
});
</script></body></html>
